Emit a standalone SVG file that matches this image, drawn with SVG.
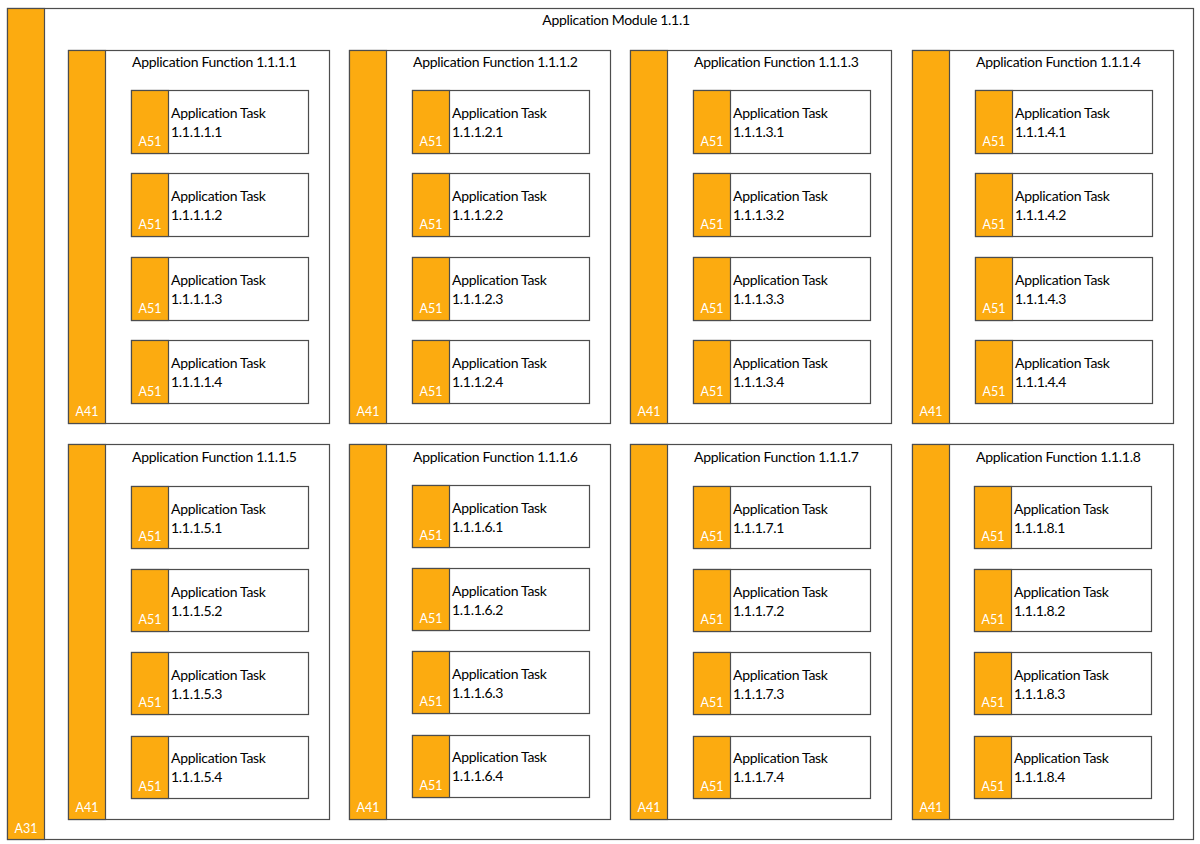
<svg xmlns="http://www.w3.org/2000/svg" width="1200" height="844" viewBox="0 0 1200 844">
<style>
.box{fill:#ffffff;stroke:#4d4d4d;stroke-width:1.2}
.bar{fill:#fcab10;stroke:#4d4d4d;stroke-width:1.2}
.t{font-family:Lato,"Liberation Sans",sans-serif;font-size:14px;fill:#000000;letter-spacing:-0.3px}
.lbl{font-family:Lato,"Liberation Sans",sans-serif;font-size:12.5px;fill:#ffffff;text-anchor:middle}
.ttl{text-anchor:middle}
</style>
<rect width="1200" height="844" fill="#ffffff"/>
<g id="module">
<rect class="box" x="7.5" y="8.5" width="1186" height="831"/>
<rect class="bar" x="7.5" y="8.5" width="37" height="831"/>
<text class="t ttl" x="616" y="25">Application Module 1.1.1</text>
<text class="lbl" x="26" y="833">A31</text>
</g>
<g id="connectors"></g>
<g id="fn1"><rect class="box" x="68.5" y="50.5" width="261" height="373"/><rect class="bar" x="68.5" y="50.5" width="37" height="373"/><text class="t" x="132" y="67">Application Function 1.1.1.1</text><text class="lbl" x="87" y="416">A41</text></g>
<g id="fn2"><rect class="box" x="349.5" y="50.5" width="261" height="373"/><rect class="bar" x="349.5" y="50.5" width="37" height="373"/><text class="t" x="413" y="67">Application Function 1.1.1.2</text><text class="lbl" x="368" y="416">A41</text></g>
<g id="fn3"><rect class="box" x="630.5" y="50.5" width="261" height="373"/><rect class="bar" x="630.5" y="50.5" width="37" height="373"/><text class="t" x="694" y="67">Application Function 1.1.1.3</text><text class="lbl" x="649" y="416">A41</text></g>
<g id="fn4"><rect class="box" x="912.5" y="50.5" width="261" height="373"/><rect class="bar" x="912.5" y="50.5" width="37" height="373"/><text class="t" x="976" y="67">Application Function 1.1.1.4</text><text class="lbl" x="931" y="416">A41</text></g>
<g id="fn5"><rect class="box" x="68.5" y="444.5" width="261" height="375"/><rect class="bar" x="68.5" y="444.5" width="37" height="375"/><text class="t" x="132" y="462">Application Function 1.1.1.5</text><text class="lbl" x="87" y="812">A41</text></g>
<g id="fn6"><rect class="box" x="349.5" y="444.5" width="261" height="375"/><rect class="bar" x="349.5" y="444.5" width="37" height="375"/><text class="t" x="413" y="462">Application Function 1.1.1.6</text><text class="lbl" x="368" y="812">A41</text></g>
<g id="fn7"><rect class="box" x="630.5" y="444.5" width="261" height="375"/><rect class="bar" x="630.5" y="444.5" width="37" height="375"/><text class="t" x="694" y="462">Application Function 1.1.1.7</text><text class="lbl" x="649" y="812">A41</text></g>
<g id="fn8"><rect class="box" x="912.5" y="444.5" width="261" height="375"/><rect class="bar" x="912.5" y="444.5" width="37" height="375"/><text class="t" x="976" y="462">Application Function 1.1.1.8</text><text class="lbl" x="931" y="812">A41</text></g>

<g id="t1111"><rect class="box" x="131.5" y="90.5" width="177" height="63"/><rect class="bar" x="131.5" y="90.5" width="37" height="63"/><text class="t" x="171" y="118">Application Task</text><text class="t" x="171" y="137">1.1.1.1.1</text><text class="lbl" x="150" y="146">A51</text></g>
<g id="t1112"><rect class="box" x="131.5" y="173.5" width="177" height="63"/><rect class="bar" x="131.5" y="173.5" width="37" height="63"/><text class="t" x="171" y="201">Application Task</text><text class="t" x="171" y="220">1.1.1.1.2</text><text class="lbl" x="150" y="229">A51</text></g>
<g id="t1113"><rect class="box" x="131.5" y="257.5" width="177" height="63"/><rect class="bar" x="131.5" y="257.5" width="37" height="63"/><text class="t" x="171" y="285">Application Task</text><text class="t" x="171" y="304">1.1.1.1.3</text><text class="lbl" x="150" y="313">A51</text></g>
<g id="t1114"><rect class="box" x="131.5" y="340.5" width="177" height="63"/><rect class="bar" x="131.5" y="340.5" width="37" height="63"/><text class="t" x="171" y="368">Application Task</text><text class="t" x="171" y="387">1.1.1.1.4</text><text class="lbl" x="150" y="396">A51</text></g>

<g id="t1121"><rect class="box" x="412.5" y="90.5" width="177" height="63"/><rect class="bar" x="412.5" y="90.5" width="37" height="63"/><text class="t" x="452" y="118">Application Task</text><text class="t" x="452" y="137">1.1.1.2.1</text><text class="lbl" x="431" y="146">A51</text></g>
<g id="t1122"><rect class="box" x="412.5" y="173.5" width="177" height="63"/><rect class="bar" x="412.5" y="173.5" width="37" height="63"/><text class="t" x="452" y="201">Application Task</text><text class="t" x="452" y="220">1.1.1.2.2</text><text class="lbl" x="431" y="229">A51</text></g>
<g id="t1123"><rect class="box" x="412.5" y="257.5" width="177" height="63"/><rect class="bar" x="412.5" y="257.5" width="37" height="63"/><text class="t" x="452" y="285">Application Task</text><text class="t" x="452" y="304">1.1.1.2.3</text><text class="lbl" x="431" y="313">A51</text></g>
<g id="t1124"><rect class="box" x="412.5" y="340.5" width="177" height="63"/><rect class="bar" x="412.5" y="340.5" width="37" height="63"/><text class="t" x="452" y="368">Application Task</text><text class="t" x="452" y="387">1.1.1.2.4</text><text class="lbl" x="431" y="396">A51</text></g>

<g id="t1131"><rect class="box" x="693.5" y="90.5" width="177" height="63"/><rect class="bar" x="693.5" y="90.5" width="37" height="63"/><text class="t" x="733" y="118">Application Task</text><text class="t" x="733" y="137">1.1.1.3.1</text><text class="lbl" x="712" y="146">A51</text></g>
<g id="t1132"><rect class="box" x="693.5" y="173.5" width="177" height="63"/><rect class="bar" x="693.5" y="173.5" width="37" height="63"/><text class="t" x="733" y="201">Application Task</text><text class="t" x="733" y="220">1.1.1.3.2</text><text class="lbl" x="712" y="229">A51</text></g>
<g id="t1133"><rect class="box" x="693.5" y="257.5" width="177" height="63"/><rect class="bar" x="693.5" y="257.5" width="37" height="63"/><text class="t" x="733" y="285">Application Task</text><text class="t" x="733" y="304">1.1.1.3.3</text><text class="lbl" x="712" y="313">A51</text></g>
<g id="t1134"><rect class="box" x="693.5" y="340.5" width="177" height="63"/><rect class="bar" x="693.5" y="340.5" width="37" height="63"/><text class="t" x="733" y="368">Application Task</text><text class="t" x="733" y="387">1.1.1.3.4</text><text class="lbl" x="712" y="396">A51</text></g>

<g id="t1141"><rect class="box" x="975.5" y="90.5" width="177" height="63"/><rect class="bar" x="975.5" y="90.5" width="37" height="63"/><text class="t" x="1015" y="118">Application Task</text><text class="t" x="1015" y="137">1.1.1.4.1</text><text class="lbl" x="994" y="146">A51</text></g>
<g id="t1142"><rect class="box" x="975.5" y="173.5" width="177" height="63"/><rect class="bar" x="975.5" y="173.5" width="37" height="63"/><text class="t" x="1015" y="201">Application Task</text><text class="t" x="1015" y="220">1.1.1.4.2</text><text class="lbl" x="994" y="229">A51</text></g>
<g id="t1143"><rect class="box" x="975.5" y="257.5" width="177" height="63"/><rect class="bar" x="975.5" y="257.5" width="37" height="63"/><text class="t" x="1015" y="285">Application Task</text><text class="t" x="1015" y="304">1.1.1.4.3</text><text class="lbl" x="994" y="313">A51</text></g>
<g id="t1144"><rect class="box" x="975.5" y="340.5" width="177" height="63"/><rect class="bar" x="975.5" y="340.5" width="37" height="63"/><text class="t" x="1015" y="368">Application Task</text><text class="t" x="1015" y="387">1.1.1.4.4</text><text class="lbl" x="994" y="396">A51</text></g>

<g id="t1151"><rect class="box" x="131.5" y="486.5" width="177" height="62"/><rect class="bar" x="131.5" y="486.5" width="37" height="62"/><text class="t" x="171" y="514">Application Task</text><text class="t" x="171" y="533">1.1.1.5.1</text><text class="lbl" x="150" y="541">A51</text></g>
<g id="t1152"><rect class="box" x="131.5" y="569.5" width="177" height="62"/><rect class="bar" x="131.5" y="569.5" width="37" height="62"/><text class="t" x="171" y="597">Application Task</text><text class="t" x="171" y="616">1.1.1.5.2</text><text class="lbl" x="150" y="624">A51</text></g>
<g id="t1153"><rect class="box" x="131.5" y="652.5" width="177" height="62"/><rect class="bar" x="131.5" y="652.5" width="37" height="62"/><text class="t" x="171" y="680">Application Task</text><text class="t" x="171" y="699">1.1.1.5.3</text><text class="lbl" x="150" y="707">A51</text></g>
<g id="t1154"><rect class="box" x="131.5" y="736.5" width="177" height="62"/><rect class="bar" x="131.5" y="736.5" width="37" height="62"/><text class="t" x="171" y="763">Application Task</text><text class="t" x="171" y="782">1.1.1.5.4</text><text class="lbl" x="150" y="791">A51</text></g>

<g id="t1161"><rect class="box" x="412.5" y="485.5" width="177" height="62"/><rect class="bar" x="412.5" y="485.5" width="37" height="62"/><text class="t" x="452" y="513">Application Task</text><text class="t" x="452" y="532">1.1.1.6.1</text><text class="lbl" x="431" y="540">A51</text></g>
<g id="t1162"><rect class="box" x="412.5" y="568.5" width="177" height="62"/><rect class="bar" x="412.5" y="568.5" width="37" height="62"/><text class="t" x="452" y="596">Application Task</text><text class="t" x="452" y="615">1.1.1.6.2</text><text class="lbl" x="431" y="623">A51</text></g>
<g id="t1163"><rect class="box" x="412.5" y="651.5" width="177" height="62"/><rect class="bar" x="412.5" y="651.5" width="37" height="62"/><text class="t" x="452" y="679">Application Task</text><text class="t" x="452" y="698">1.1.1.6.3</text><text class="lbl" x="431" y="706">A51</text></g>
<g id="t1164"><rect class="box" x="412.5" y="735.5" width="177" height="62"/><rect class="bar" x="412.5" y="735.5" width="37" height="62"/><text class="t" x="452" y="762">Application Task</text><text class="t" x="452" y="781">1.1.1.6.4</text><text class="lbl" x="431" y="790">A51</text></g>

<g id="t1171"><rect class="box" x="693.5" y="486.5" width="177" height="62"/><rect class="bar" x="693.5" y="486.5" width="37" height="62"/><text class="t" x="733" y="514">Application Task</text><text class="t" x="733" y="533">1.1.1.7.1</text><text class="lbl" x="712" y="541">A51</text></g>
<g id="t1172"><rect class="box" x="693.5" y="569.5" width="177" height="62"/><rect class="bar" x="693.5" y="569.5" width="37" height="62"/><text class="t" x="733" y="597">Application Task</text><text class="t" x="733" y="616">1.1.1.7.2</text><text class="lbl" x="712" y="624">A51</text></g>
<g id="t1173"><rect class="box" x="693.5" y="652.5" width="177" height="62"/><rect class="bar" x="693.5" y="652.5" width="37" height="62"/><text class="t" x="733" y="680">Application Task</text><text class="t" x="733" y="699">1.1.1.7.3</text><text class="lbl" x="712" y="707">A51</text></g>
<g id="t1174"><rect class="box" x="693.5" y="736.5" width="177" height="62"/><rect class="bar" x="693.5" y="736.5" width="37" height="62"/><text class="t" x="733" y="763">Application Task</text><text class="t" x="733" y="782">1.1.1.7.4</text><text class="lbl" x="712" y="791">A51</text></g>

<g id="t1181"><rect class="box" x="974.5" y="486.5" width="177" height="62"/><rect class="bar" x="974.5" y="486.5" width="37" height="62"/><text class="t" x="1014" y="514">Application Task</text><text class="t" x="1014" y="533">1.1.1.8.1</text><text class="lbl" x="993" y="541">A51</text></g>
<g id="t1182"><rect class="box" x="974.5" y="569.5" width="177" height="62"/><rect class="bar" x="974.5" y="569.5" width="37" height="62"/><text class="t" x="1014" y="597">Application Task</text><text class="t" x="1014" y="616">1.1.1.8.2</text><text class="lbl" x="993" y="624">A51</text></g>
<g id="t1183"><rect class="box" x="974.5" y="652.5" width="177" height="62"/><rect class="bar" x="974.5" y="652.5" width="37" height="62"/><text class="t" x="1014" y="680">Application Task</text><text class="t" x="1014" y="699">1.1.1.8.3</text><text class="lbl" x="993" y="707">A51</text></g>
<g id="t1184"><rect class="box" x="974.5" y="736.5" width="177" height="62"/><rect class="bar" x="974.5" y="736.5" width="37" height="62"/><text class="t" x="1014" y="763">Application Task</text><text class="t" x="1014" y="782">1.1.1.8.4</text><text class="lbl" x="993" y="791">A51</text></g>
</svg>
